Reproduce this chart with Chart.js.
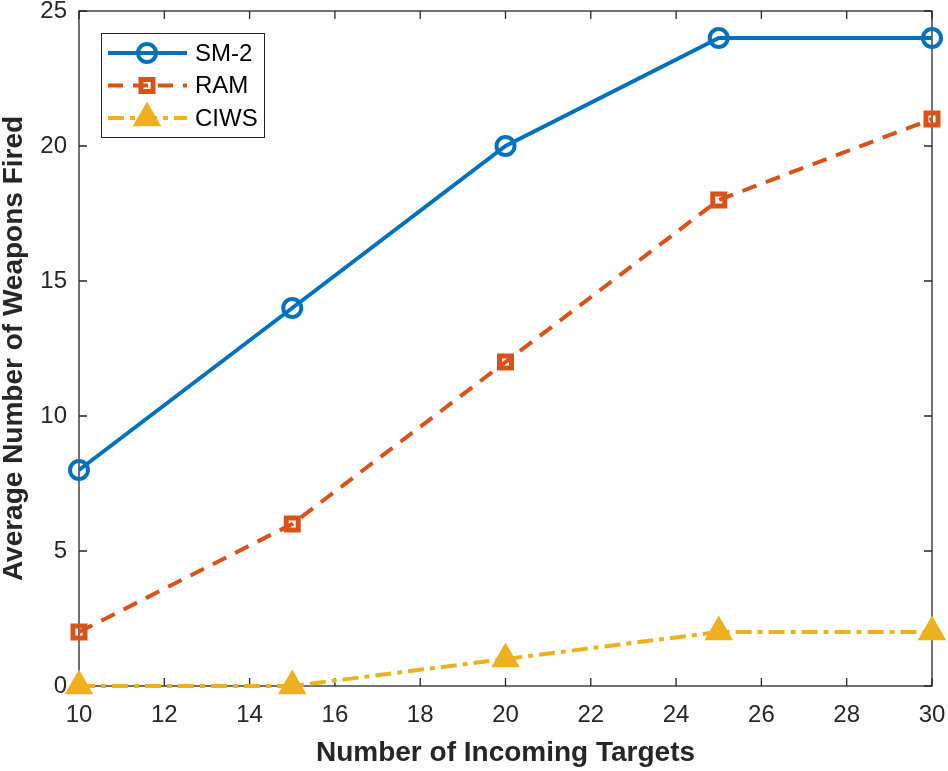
<!DOCTYPE html>
<html>
<head>
<meta charset="utf-8">
<script src="https://cdn.jsdelivr.net/npm/chart.js@4/dist/chart.umd.min.js"></script>
<style>
  html, body { margin: 0; padding: 0; background: #fff; }
  #wrap { width: 948px; height: 771px; }
</style>
</head>
<body>
<div id="wrap"><canvas id="myChart" width="948" height="771"></canvas></div>
<script>
// data
const targets = [10, 15, 20, 25, 30];
const sm2 = [8, 14, 20, 24, 24];
const ram = [2, 6, 12, 18, 21];
const ciws = [0, 0, 1, 2, 2];
const seriesNames = ["SM-2", "RAM", "CIWS"];
const xTitle = "Number of Incoming Targets";
const yTitle = "Average Number of Weapons Fired";

const axisColor = "#262626";
const fontFamily = "Arial, 'Liberation Sans', Helvetica, sans-serif";

function toPoints(ys) {
	return targets.map((x, i) => ({ x: x, y: ys[i] }));
}

// box around the plot with inward ticks on all four sides (MATLAB look)
const frame = {
	id: "frame",
	beforeDatasetsDraw(chart) {
		const ctx = chart.ctx;
		const a = chart.chartArea;
		const xs = chart.scales.x, ys = chart.scales.y;
		const tl = 8;
		ctx.save();
		ctx.strokeStyle = axisColor;
		ctx.lineWidth = 1.3;
		ctx.strokeRect(a.left, a.top, a.right - a.left, a.bottom - a.top);
		ctx.beginPath();
		xs.ticks.forEach(t => {
			const px = xs.getPixelForValue(t.value);
			ctx.moveTo(px, a.bottom); ctx.lineTo(px, a.bottom - tl);
			ctx.moveTo(px, a.top); ctx.lineTo(px, a.top + tl);
		});
		ys.ticks.forEach(t => {
			const py = ys.getPixelForValue(t.value);
			ctx.moveTo(a.left, py); ctx.lineTo(a.left + tl, py);
			ctx.moveTo(a.right, py); ctx.lineTo(a.right - tl, py);
		});
		ctx.stroke();
		ctx.restore();
	}
};

// legend with line sample + marker, like the figure
const lineLegend = {
	id: "lineLegend",
	afterDraw(chart) {
		const ctx = chart.ctx;
		const bx = 101, by = 33, bw = 163, bh = 104;
		ctx.save();
		ctx.fillStyle = "#fff";
		ctx.fillRect(bx, by, bw, bh);
		ctx.strokeStyle = axisColor;
		ctx.lineWidth = 1;
		ctx.strokeRect(bx + 0.5, by + 0.5, bw, bh);
		chart.data.datasets.forEach((ds, i) => {
			const y = by + 20 + i * 32.5;
			ctx.strokeStyle = ds.borderColor;
			ctx.lineWidth = ds.borderWidth;
			ctx.setLineDash(ds.borderDash || []);
			ctx.beginPath();
			ctx.moveTo(108, y);
			ctx.lineTo(187, y);
			ctx.stroke();
			ctx.setLineDash([]);
			ctx.fillStyle = ds.pointBackgroundColor;
			ctx.strokeStyle = ds.borderColor;
			ctx.lineWidth = ds.pointBorderWidth;
			const opts = { pointStyle: ds.pointStyle, radius: ds.pointRadius, borderWidth: ds.pointBorderWidth, rotation: 0 };
			Chart.helpers.drawPoint(ctx, opts, 147, y);
			ctx.fillStyle = "#000";
			ctx.font = "24px " + fontFamily;
			ctx.textBaseline = "middle";
			ctx.textAlign = "left";
			ctx.fillText(ds.label, 195, y + 1);
		});
		ctx.restore();
	}
};

const config = {
	type: "line",
	data: {
		datasets: [{
			label: seriesNames[0],
			data: toPoints(sm2),
			borderColor: "#0072BD",
			borderWidth: 4,
			pointStyle: "circle",
			pointRadius: 9,
			pointBorderWidth: 4,
			pointBackgroundColor: "rgba(0,0,0,0)",
			pointBorderColor: "#0072BD",
			clip: false
		}, {
			label: seriesNames[1],
			data: toPoints(ram),
			borderColor: "#D95319",
			borderWidth: 4,
			borderDash: [15, 10],
			pointStyle: "rect",
			pointRadius: 8.5,
			pointBorderWidth: 5,
			pointBackgroundColor: "rgba(0,0,0,0)",
			pointBorderColor: "#D95319",
			clip: false
		}, {
			label: seriesNames[2],
			data: toPoints(ciws),
			borderColor: "#EDB120",
			borderWidth: 4,
			borderDash: [16, 6, 5, 6],
			pointStyle: "triangle",
			pointRadius: 13.5,
			pointBorderWidth: 3,
			pointBackgroundColor: "#EDB120",
			pointBorderColor: "#EDB120",
			clip: false
		}]
	},
	options: {
		responsive: false,
		animation: false,
		layout: { autoPadding: false, padding: { top: 11, right: 16, bottom: 4, left: 0 } },
		plugins: {
			legend: { display: false },
			tooltip: { enabled: false }
		},
		scales: {
			x: {
				type: "linear",
				min: 10, max: 30,
				ticks: { stepSize: 2, color: axisColor, padding: 17, font: { family: fontFamily, size: 24, lineHeight: 1 } },
				grid: { display: false, drawTicks: false },
				border: { display: false },
				title: { display: true, text: xTitle, color: axisColor, padding: 0, font: { family: fontFamily, size: 28, weight: "bold", lineHeight: 1 } },
				afterFit: s => { s.height = 81; s.paddingLeft = 0; s.paddingRight = 0; }
			},
			y: {
				min: 0, max: 25,
				ticks: { stepSize: 5, color: axisColor, padding: 12, font: { family: fontFamily, size: 24, lineHeight: 1 } },
				grid: { display: false, drawTicks: false },
				border: { display: false },
				title: { display: true, text: yTitle, color: axisColor, padding: 0, font: { family: fontFamily, size: 28, weight: "bold", lineHeight: 1 } },
				afterFit: s => { s.width = 79; s.paddingTop = 0; s.paddingBottom = 0; }
			}
		}
	},
	plugins: [frame, lineLegend]
};

const chart = new Chart("myChart", config);
</script>
</body>
</html>
